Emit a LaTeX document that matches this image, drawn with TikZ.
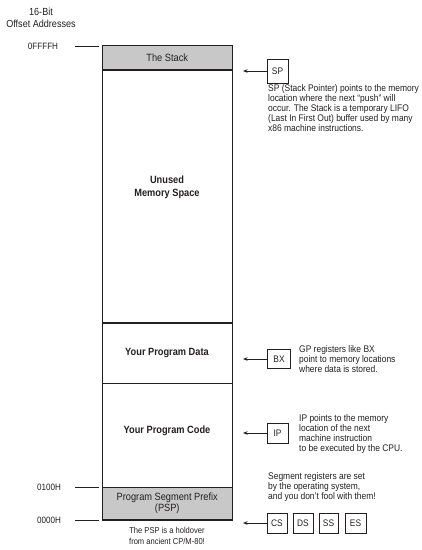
\documentclass[tikz,border=0pt]{standalone}
\usepackage{fontspec}
\setmainfont[FakeStretch=0.88]{Liberation Sans}
\usetikzlibrary{arrows.meta}
\definecolor{bandgray}{RGB}{200,200,200}
\definecolor{ink}{RGB}{35,31,32}
\begin{document}
\begin{tikzpicture}[x=1pt,y=-1pt,
  every node/.style={text=ink},
  band/.style={draw=ink,line width=0.8pt,minimum width=129.5pt,inner sep=0pt,outer sep=0pt,anchor=north west,align=center,font=\fontsize{10.5}{11.5}\selectfont},
  bandbold/.style={font=\fontsize{10.5}{13}\selectfont\bfseries,align=center,inner sep=0pt},
  reg/.style={draw=ink,line width=0.8pt,minimum width=21pt,minimum height=21pt,inner sep=1pt,font=\fontsize{9.5}{10}\selectfont},
  note/.style={align=left,inner sep=0pt,anchor=north west,font=\fontsize{9.6}{10}\selectfont},
  addr/.style={inner sep=0pt,font=\fontsize{9.2}{12}\selectfont},
  tick/.style={draw=ink,line width=0.8pt},
  arr/.style={draw=ink,line width=0.8pt,-{Stealth[length=4.5pt,width=3.5pt]}},
  thick edge/.style={draw=ink,line width=1.8pt}
]
\useasboundingbox (0,0) rectangle (422,550);

% bands
\node[band,fill=bandgray,minimum height=24.5pt] (stack) at (102.5,45.5) {The Stack};
\node[band,minimum height=253pt] (unused) at (102.5,70) {};
\node[band,minimum height=60pt] (data) at (102.5,323) {};
\node[band,minimum height=104pt] (code) at (102.5,383) {};
\node[band,fill=bandgray,minimum height=33pt] (psp) at (102.5,487) {Program Segment Prefix\\(PSP)};

\node[bandbold] (unusedlbl) at (167,187) {Unused\\Memory Space};
\node[bandbold] (datalbl) at (167,353) {Your Program Data};
\node[bandbold] (codelbl) at (167,431) {Your Program Code};

% thick edges
\draw[thick edge] (stack.north west) -- (psp.south west) -- (psp.south east);
\draw[line width=1.4pt,draw=ink] (stack.south west) -- (stack.south east);
\draw[line width=1.4pt,draw=ink] (data.north west) -- (data.north east);

% address labels
\node[addr,align=center,font=\fontsize{10.3}{12}\selectfont] (hdr) at (41,18) {16-Bit\\Offset Addresses};
\node[addr] (aFFFF) at (43,46) {0FFFFH};
\node[addr] (a0100) at (49,487) {0100H};
\node[addr] (a0000) at (49,520) {0000H};
\coordinate (t1a) at (75,46); \coordinate (t1b) at (99,46);
\coordinate (t2a) at (75,487); \coordinate (t2b) at (99,487);
\coordinate (t3a) at (75,520); \coordinate (t3b) at (99,520);
\draw[tick] (t1a) -- (t1b);
\draw[tick] (t2a) -- (t2b);
\draw[tick] (t3a) -- (t3b);

% registers
\node[reg,minimum height=24pt] (sp) at (277.5,71) {SP};
\node[reg,minimum width=23pt,minimum height=19pt] (bx) at (279,359) {BX};
\node[reg,minimum height=20pt] (ip) at (277.5,433) {IP};
\node[reg,minimum width=20pt,minimum height=20pt] (cs) at (277,523) {CS};
\node[reg,minimum width=20pt,minimum height=20pt] (ds) at (303,523) {DS};
\node[reg,minimum width=19pt,minimum height=20pt] (ss) at (328.5,523) {SS};
\node[reg,minimum width=21pt,minimum height=20pt] (es) at (355.5,523) {ES};

\coordinate (spt) at (243,71);
\coordinate (bxt) at (243,359);
\coordinate (ipt) at (243,433);
\coordinate (cst) at (243,523);
\draw[arr] (sp.west) -- (spt);
\draw[arr] (bx.west) -- (bxt);
\draw[arr] (ip.west) -- (ipt);
\draw[arr] (cs.west) -- (cst);

% notes
\node[note] (spnote) at (268,84.5) {SP (Stack Pointer) points to the memory\\location where the next “push” will\\occur. The Stack is a temporary LIFO\\(Last In First Out) buffer used by many\\x86 machine instructions.};
\node[note] (bxnote) at (299,345.5) {GP registers like BX\\point to memory locations\\where data is stored.};
\node[note] (ipnote) at (299,414.5) {IP points to the memory\\location of the next\\machine instruction\\to be executed by the CPU.};
\node[note] (segnote) at (268,472.5) {Segment registers are set\\by the operating system,\\and you don’t fool with them!};
\node[note,anchor=north,align=center,font=\fontsize{8.6}{10.5}\selectfont] (pspnote) at (167,527.5) {The PSP is a holdover\\from ancient CP/M-80!};
\end{tikzpicture}
\end{document}
